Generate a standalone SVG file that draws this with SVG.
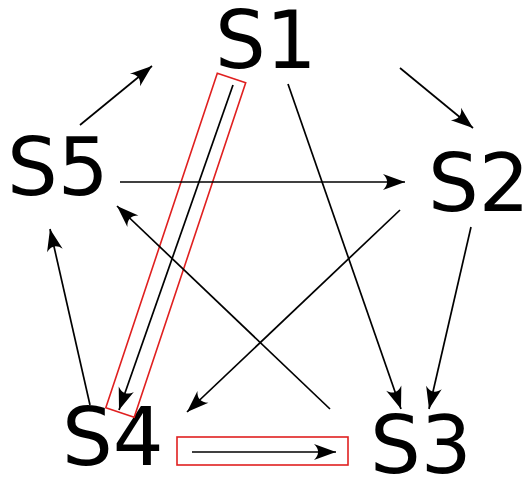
<svg xmlns="http://www.w3.org/2000/svg" width="528" height="485" viewBox="0 0 528 485">
<defs>
<marker id="ah" markerUnits="userSpaceOnUse" markerWidth="26" markerHeight="20" viewBox="-24 -10 26 20" refX="0" refY="0" orient="auto">
<path d="M0,0 L-22,-8 C-16.5,-3 -16.5,3 -22,8 Z" fill="#000"/>
</marker>
</defs>
<style>
.lbl{font-family:"DejaVu Sans",sans-serif;font-size:80px;fill:#000}
.e{stroke:#000;stroke-width:1.7;fill:none;marker-end:url(#ah)}
.hl{fill:none;stroke:#e02020;stroke-width:1.6}
</style>
<rect width="528" height="485" fill="#fff"/>
<g id="S1"><text class="lbl" x="215" y="68">S1</text></g>
<g id="S2"><text class="lbl" x="428" y="211">S2</text></g>
<g id="S3"><text class="lbl" x="370" y="473">S3</text></g>
<g id="S4"><text class="lbl" x="62" y="465">S4</text></g>
<g id="S5"><text class="lbl" x="7" y="195">S5</text></g>
<g id="highlights">
<polygon class="hl" points="217.3,73.3 245.7,82.7 134.2,417.2 105.8,407.8"/>
<rect class="hl" x="177" y="437" width="171" height="28" stroke="#e06060"/>
</g>
<g id="connectors">
<path class="e" d="M80,125 L152,66"/>
<path class="e" d="M400,68 L473,128"/>
<path class="e" d="M120,182 L405,182"/>
<path class="e" d="M400,210 L187,412"/>
<path class="e" d="M471,227 L429,409"/>
<path class="e" d="M288,84 L401,409"/>
<path class="e" d="M330,409 L117,206"/>
<path class="e" d="M90,405 L50,229"/>
<path class="e" d="M233,85 L119,410"/>
<path class="e" d="M192,452 L336,452" stroke="#333" stroke-width="2"/>
</g>
</svg>
